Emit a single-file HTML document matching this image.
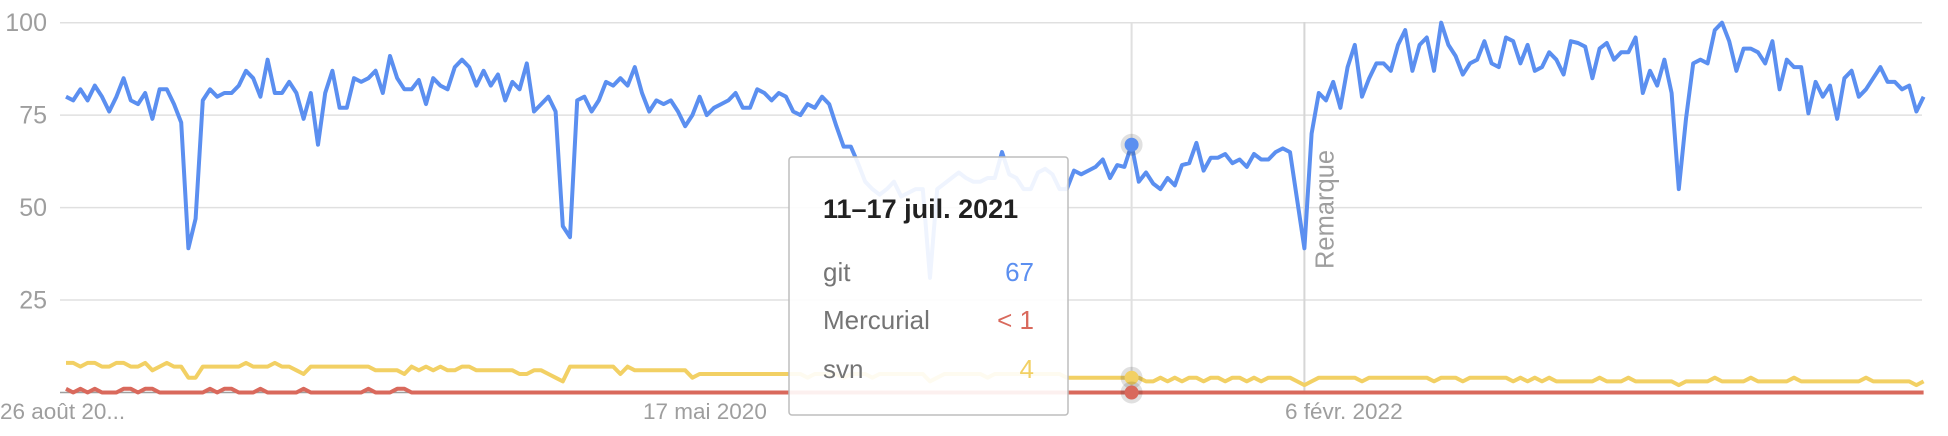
<!DOCTYPE html>
<html><head><meta charset="utf-8"><style>
html,body{margin:0;padding:0;background:#fff;}
svg{display:block;font-family:"Liberation Sans",Arial,sans-serif;}
</style></head><body>
<svg id="chart" width="1948" height="436" viewBox="0 0 1948 436" xmlns="http://www.w3.org/2000/svg">
<g id="grid"></g>
<g id="ylabels"></g>
<g id="xlabels"></g>
<g id="series"></g>
<g id="overlay"></g>
</svg>
<script>
const gitValues=[80,79,82,79,83,80,76,80,85,79,78,81,74,82,82,78,73,39,47,79,82,80,81,81,83,87,85,80,90,81,81,84,81,74,81,67,81,87,77,77,85,84,
85,87,81,91,85,82,82,84.5,78,85,83,82,88,90,88,83,87,83,86,79,84,82,89,76,78,80,76,45,42,79,80,76,79,84,83,85,83,88,81,76,79,78,79,76,
72,75,80,75,77,78,79,81,77,77,82,81,79,81,80,76,75,78,77,80,78,72,66.5,66.5,62,57,55,53.5,55,57,53,54,55,
55,31,55,56.5,58,59.5,58,
57,57,58,58,65,59,58,55,55,59.5,60.5,59,55,55,60,59,60,61,63,58,61.5,61,67,
57,59.5,56.5,55,58,56,61.5,62,67.5,60,63.5,63.5,64.5,62,63,61,64.5,63,63,
65,66,65,52,39,70,81,79,84,77,88,94,80,85,89,89,87,94,98,87,94,96,87,100,94,91,86,89,90,95,89,88,96,95,89,94,87,88,92,90,86,
95,94.5,93.5,85,93,94.5,90,92,92,96,81,87,83,90,81,55,74,89,90,89,98,100,95,87,93,93,92,89,95,82,90,88,88,75.5,84,80,83,74,85,87,80,82,85,88,84,84,82,83,76,80];
const svnValues=[8,8,7,8,8,7,7,8,8,7,7,8,6,7,8,7,7,4,4,7,
7,7,7,7,7,8,7,7,7,8,7,7,6,5,7,7,7,7,7,7,
7,7,7,6,6,6,6,5,7,6,7,6,7,6,6,7,7,6,6,6,
6,6,6,5,5,6,6,5,4,3,7,7,7,7,7,7,7,5,7,6,
6,6,6,6,6,6,6,4,5,5,5,5,5,5,5,5,5,5,5,5,
5,5,5,4,5,5,5,5,4,5,5,5,4,5,5,5,5,5,5,5,
3,4,5,5,5,5,5,5,4,5,5,5,5,5,5,5,5,5,5,4,
4,4,4,4,4,4,4,4,4,4,3,3,4,3,4,3,4,4,3,4,
4,3,4,4,3,4,3,4,4,4,4,3,2,3,4,4,4,4,4,4,
3,4,4,4,4,4,4,4,4,4,3,4,4,4,3,4,4,4,4,4,
4,3,4,3,4,3,4,3,3,3,3,3,3,4,3,3,3,4,3,3,
3,3,3,3,2,3,3,3,3,4,3,3,3,3,4,3,3,3,3,3,
4,3,3,3,3,3,3,3,3,3,4,3,3,3,3,3,3,2,3];
const mercurialOnes=[0,2,4,8,9,11,12,20,22,23,27,33,42,46,47];
const yTicks=[25,50,75,100];
const xTickLabels=["26 août 20...","17 mai 2020","6 févr. 2022"];
const hoverIndex=148;
const noteIndex=172;

const NS="http://www.w3.org/2000/svg";
const N=gitValues.length;
const mercValues=gitValues.map((_,i)=>mercurialOnes.includes(i)?1:0);
const X0=66,DX=7.2,Y0=392.5,Y100=22.7,GL=60,GR=1922;
const xs=i=>X0+i*DX;
const ys=v=>Y0-(Y0-Y100)*v/100;
function mk(tag,attrs,parent){const e=document.createElementNS(NS,tag);for(const k in attrs)e.setAttribute(k,attrs[k]);parent.appendChild(e);return e;}

const grid=document.getElementById('grid');
yTicks.forEach(t=>{
  const l=mk('line',{x1:GL,x2:GR,y1:ys(t),y2:ys(t),stroke:'#e0e0e0','stroke-width':1.5},grid);
  
  
});
const base=mk('line',{x1:GL,x2:GR,y1:Y0,y2:Y0,stroke:'#9e9e9e','stroke-width':1.5},grid);



const yl=document.getElementById('ylabels');
yTicks.forEach(t=>{
  const tx=mk('text',{x:47,y:ys(t)+8.5,'text-anchor':'end','font-size':25,fill:'#9e9e9e'},yl);
  tx.textContent=t;
  
  
});

const xl=document.getElementById('xlabels');
const xPos=[0,643,1285];
xTickLabels.forEach((s,k)=>{
  const tx=mk('text',{x:xPos[k],y:419,'font-size':22.5,fill:'#9e9e9e'},xl);
  tx.textContent=s;
  
  
});

const ov=document.getElementById('overlay');
const vl=mk('line',{x1:xs(noteIndex),x2:xs(noteIndex),y1:22,y2:Y0,stroke:'#d6d6d6','stroke-width':2},grid);


const note=mk('text',{transform:`translate(${xs(noteIndex)+29},269) rotate(-90)`,'font-size':25.5,fill:'#9e9e9e'},grid);
note.textContent='Remarque';


const hl=mk('line',{x1:xs(hoverIndex),x2:xs(hoverIndex),y1:22,y2:Y0,stroke:'#e0e0e0','stroke-width':2},grid);



const ser=document.getElementById('series');
function path(vals){return vals.map((v,i)=>(i?'L':'M')+xs(i).toFixed(1)+' '+ys(v).toFixed(1)).join(' ');}
const pm=mk('path',{d:path(mercValues),fill:'none',stroke:'#d9695c','stroke-width':4,'stroke-linejoin':'round'},ser);


const ps=mk('path',{d:path(svnValues),fill:'none',stroke:'#f2d064','stroke-width':4,'stroke-linejoin':'round'},ser);


const pg=mk('path',{d:path(gitValues),fill:'none',stroke:'#5b8ff0','stroke-width':4,'stroke-linejoin':'round'},ser);



const tip=mk('g',{},ov);


mk('rect',{x:789,y:157,width:279,height:258,rx:3,fill:'rgba(255,255,255,0.9)',stroke:'#bdbdbd','stroke-width':1.5},tip);
const tt=mk('text',{x:823,y:218,'font-size':27,'font-weight':'bold',fill:'#212121'},tip);
tt.textContent='11–17 juil. 2021';


const rows=[['git','67','#5b8ff0',281],['Mercurial','< 1','#d9695c',329],['svn','4','#f2d064',378]];
rows.forEach(r=>{
  const a=mk('text',{x:823,y:r[3],'font-size':26,fill:'#757575'},tip);
  a.textContent=r[0];
  
  
  const b=mk('text',{x:1034,y:r[3],'font-size':26,fill:r[2],'text-anchor':'end'},tip);
  b.textContent=r[1];
  
  
});
[[gitValues[hoverIndex],'#5b8ff0','git'],[svnValues[hoverIndex],'#f2d064','svn'],[mercValues[hoverIndex],'#d9695c','mercurial']].forEach(d=>{
  mk('circle',{cx:xs(hoverIndex),cy:ys(d[0]),r:11,fill:'rgba(0,0,0,0.12)'},ov);
  const c=mk('circle',{cx:xs(hoverIndex),cy:ys(d[0]),r:7,fill:d[1]},ov);
  
  
});
</script>
</body></html>
